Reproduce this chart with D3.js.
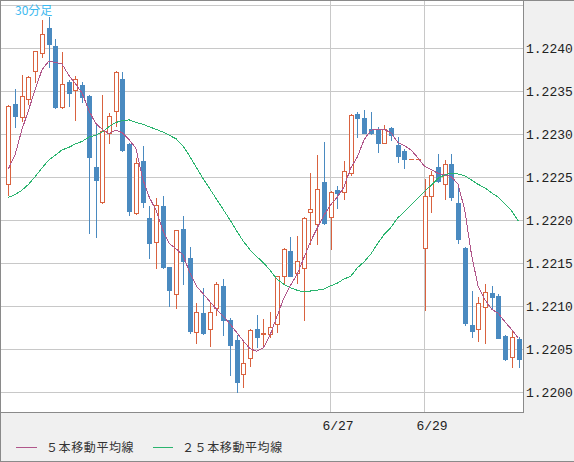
<!DOCTYPE html>
<html><head><meta charset="utf-8">
<script src="https://cdn.jsdelivr.net/npm/d3@7"></script>
<style>body{margin:0;background:#fff}svg{display:block}</style>
</head><body>
<svg id="c" width="574" height="462"></svg>
<script>
const openP  = [1.22242,1.22335,1.22320,1.22341,1.22374,1.22395,1.22424,1.22403,1.22332,1.22361,1.22352,1.22358,1.22345,1.22262,1.22222,1.22302,1.22327,1.22365,1.22289,1.22209,1.22269,1.22203,1.22175,1.22217,1.22146,1.22115,1.22190,1.22156,1.22070,1.22092,1.22074,1.22098,1.22124,1.22084,1.22061,1.22022,1.22040,1.22074,1.22068,1.22068,1.22080,1.22135,1.22165,1.22139,1.22145,1.22210,1.22196,1.22245,1.22204,1.22235,1.22233,1.22255,1.22324,1.22319,1.22306,1.22306,1.22290,1.22308,1.22288,1.22281,1.22272,1.22272,1.22168,1.22228,1.22262,1.22242,1.22266,1.22220,1.22168,1.22078,1.22074,1.22099,1.22116,1.22112,1.22066,1.22041,1.22062];
const highP  = [1.22334,1.22353,1.22369,1.22368,1.22397,1.22433,1.22437,1.22411,1.22396,1.22363,1.22368,1.22361,1.22346,1.22311,1.22346,1.22325,1.22374,1.22373,1.22290,1.22273,1.22287,1.22217,1.22226,1.22228,1.22146,1.22189,1.22205,1.22169,1.22104,1.22122,1.22104,1.22128,1.22132,1.22087,1.22067,1.22061,1.22074,1.22090,1.22085,1.22094,1.22135,1.22168,1.22181,1.22182,1.22204,1.22255,1.22276,1.22291,1.22234,1.22240,1.22269,1.22324,1.22326,1.22328,1.22326,1.22309,1.22311,1.22309,1.22297,1.22283,1.22272,1.22272,1.22248,1.22258,1.22277,1.22270,1.22277,1.22240,1.22169,1.22118,1.22111,1.22126,1.22124,1.22115,1.22067,1.22073,1.22065];
const lowP   = [1.22230,1.22309,1.22316,1.22335,1.22361,1.22390,1.22378,1.22331,1.22331,1.22333,1.22317,1.22338,1.22185,1.22181,1.22220,1.22290,1.22310,1.22281,1.22206,1.22208,1.22216,1.22156,1.22145,1.22145,1.22101,1.22098,1.22126,1.22069,1.22058,1.22068,1.22054,1.22090,1.22067,1.22020,1.22001,1.22006,1.22031,1.22053,1.22055,1.22065,1.22070,1.22127,1.22135,1.22127,1.22084,1.22173,1.22173,1.22196,1.22167,1.22215,1.22225,1.22253,1.22297,1.22302,1.22301,1.22280,1.22290,1.22294,1.22268,1.22261,1.22272,1.22272,1.22096,1.22210,1.22245,1.22225,1.22224,1.22174,1.22078,1.22065,1.22060,1.22058,1.22097,1.22063,1.22038,1.22030,1.22030];
const closeP = [1.22333,1.22322,1.22345,1.22367,1.22397,1.22417,1.22405,1.22332,1.22359,1.22348,1.22365,1.22344,1.22274,1.22247,1.22304,1.22322,1.22373,1.22282,1.22211,1.22267,1.22222,1.22174,1.22218,1.22146,1.22119,1.22189,1.22153,1.22072,1.22094,1.22069,1.22094,1.22126,1.22084,1.22055,1.22012,1.22034,1.22073,1.22065,1.22069,1.22076,1.22135,1.22167,1.22135,1.22153,1.22203,1.22213,1.22237,1.22197,1.22233,1.22232,1.22258,1.22323,1.22319,1.22302,1.22302,1.22290,1.22306,1.22299,1.22275,1.22272,1.22272,1.22272,1.22228,1.22253,1.22246,1.22266,1.22227,1.22178,1.22081,1.22072,1.22104,1.22117,1.22111,1.22063,1.22039,1.22065,1.22039];
const ma5    = [1.22260,1.22276,1.22305,1.22328,1.22352,1.22375,1.22385,1.22384,1.22382,1.22369,1.22359,1.22348,1.22328,1.22313,1.22306,1.22301,1.22305,1.22302,1.22294,1.22284,1.22249,1.22227,1.22212,1.22189,1.22173,1.22167,1.22160,1.22140,1.22124,1.22115,1.22106,1.22097,1.22089,1.22080,1.22070,1.22060,1.22051,1.22048,1.22052,1.22067,1.22088,1.22109,1.22124,1.22137,1.22156,1.22175,1.22191,1.22206,1.22218,1.22227,1.22239,1.22261,1.22274,1.22294,1.22305,1.22306,1.22306,1.22302,1.22291,1.22287,1.22282,1.22273,1.22263,1.22259,1.22255,1.22253,1.22251,1.22242,1.22212,1.22160,1.22123,1.22108,1.22097,1.22092,1.22082,1.22073,1.22063];
const ma25   = [1.22227,1.22230,1.22235,1.22242,1.22251,1.22261,1.22270,1.22276,1.22282,1.22285,1.22289,1.22292,1.22297,1.22299,1.22303,1.22309,1.22314,1.22316,1.22317,1.22314,1.22312,1.22309,1.22306,1.22303,1.22299,1.22295,1.22287,1.22275,1.22262,1.22249,1.22237,1.22225,1.22213,1.22201,1.22188,1.22176,1.22166,1.22158,1.22151,1.22142,1.22132,1.22126,1.22122,1.22119,1.22117,1.22118,1.22119,1.22120,1.22124,1.22127,1.22132,1.22135,1.22145,1.22152,1.22161,1.22173,1.22184,1.22192,1.22203,1.22210,1.22218,1.22226,1.22234,1.22241,1.22249,1.22253,1.22255,1.22254,1.22252,1.22247,1.22242,1.22238,1.22232,1.22227,1.22219,1.22211,1.22199];
const yTicks  = [1.2200,1.2205,1.2210,1.2215,1.2220,1.2225,1.2230,1.2235,1.2240,1.2245];
const yLabels = ["1.2200","1.2205","1.2210","1.2215","1.2220","1.2225","1.2230","1.2235","1.2240"];
const dateIdx = [48,62];
const dateLabels = ["6/27","6/29"];
const titleText = "30分足";
const legendNames = ["５本移動平均線","２５本移動平均線"];

const C_UP="#d9623f", C_DN="#4a8ac0", C_MA5="#b0568a", C_MA25="#2ab46e";
const svg=d3.select("#c");
svg.append("rect").attr("x",0).attr("y",0).attr("width",574).attr("height",462).attr("fill","#f0f0f0");
svg.append("rect").attr("x",0.5).attr("y",0.5).attr("width",523).attr("height",412).attr("fill","#fff").attr("stroke","#8a8a8a");

const x=d3.scaleLinear().domain([0,openP.length-1]).range([8.3,518.5]);
const y=d3.scaleLinear().domain([1.2200,1.2245]).range([392.5,5.5]);
const px=v=>Math.round(v-0.5)+0.5;

const grid=svg.append("g");
yTicks.forEach(v=>grid.append("line").attr("x1",1).attr("x2",523).attr("y1",px(y(v))).attr("y2",px(y(v))).attr("stroke","#c8c8c8"));
dateIdx.forEach(i=>grid.append("line").attr("y1",1).attr("y2",412).attr("x1",px(x(i))).attr("x2",px(x(i))).attr("stroke","#c8c8c8"));

svg.append("g").selectAll("text").data(yLabels).join("text")
  .attr("x",526).attr("y",d=>y(+d)).attr("dy","0.36em")
  .attr("font-family","Liberation Mono, DejaVu Sans Mono, monospace").attr("font-size",13).attr("fill","#222").text(d=>d);
svg.append("g").selectAll("text").data(dateIdx).join("text")
  .attr("x",i=>x(i)+7.5).attr("y",425).attr("dy","0.36em").attr("text-anchor","middle")
  .attr("font-family","Liberation Mono, DejaVu Sans Mono, monospace").attr("font-size",13).attr("fill","#222").text((d,k)=>dateLabels[k]);

const cg=svg.append("g");
openP.forEach((o,i)=>{
  const c=closeP[i], h=highP[i], l=lowP[i];
  const cx=Math.round(x(i));
  const yo=Math.round(y(o)), yc=Math.round(y(c)), yh=Math.round(y(h)), yl=Math.round(y(l));
  if(c<o){
    cg.append("line").attr("x1",cx+0.5).attr("x2",cx+0.5).attr("y1",yh).attr("y2",yl+1).attr("stroke",C_DN);
    cg.append("rect").attr("x",cx-2).attr("width",5).attr("y",yo).attr("height",Math.max(1,yc-yo+1)).attr("fill",C_DN);
  } else {
    cg.append("line").attr("x1",cx+0.5).attr("x2",cx+0.5).attr("y1",yh).attr("y2",yl+1).attr("stroke",C_UP);
    if(yo-yc>=2){
      cg.append("rect").attr("x",cx-1.5).attr("width",4).attr("y",yc+0.5).attr("height",yo-yc).attr("fill","#fff").attr("stroke",C_UP);
    } else {
      cg.append("rect").attr("x",cx-2).attr("width",5).attr("y",yc).attr("height",Math.max(1,yo-yc+1)).attr("fill",C_UP);
    }
  }
});

const line=d3.line().x((d,i)=>x(i)).y(d=>y(d));
svg.append("path").attr("d",line(ma25)).attr("fill","none").attr("stroke",C_MA25).attr("stroke-width",1).attr("shape-rendering","crispEdges");
svg.append("path").attr("d",line(ma5)).attr("fill","none").attr("stroke",C_MA5).attr("stroke-width",1).attr("shape-rendering","crispEdges");

svg.append("text").attr("x",15).attr("y",15).attr("font-family","Noto Sans CJK JP, sans-serif").attr("font-size",12).attr("fill","#3bb9ef").text(titleText);

const lg=svg.append("g");
[[16,37,C_MA5,46],[153,173,C_MA25,182]].forEach((d,k)=>{
  lg.append("line").attr("x1",d[0]).attr("x2",d[1]).attr("y1",447.5).attr("y2",447.5).attr("stroke",d[2]);
  lg.append("text").attr("x",d[3]).attr("y",448).attr("dy","0.36em").attr("font-family","Noto Sans CJK JP, sans-serif")
    .attr("font-size",12).attr("letter-spacing","0.6px").attr("fill","#333").text(legendNames[k]);
});
svg.append("path").attr("d","M0.5,462 V0.5 H574 M0,461.5 H574").attr("fill","none").attr("stroke","#8a8a8a");
</script>
</body></html>
